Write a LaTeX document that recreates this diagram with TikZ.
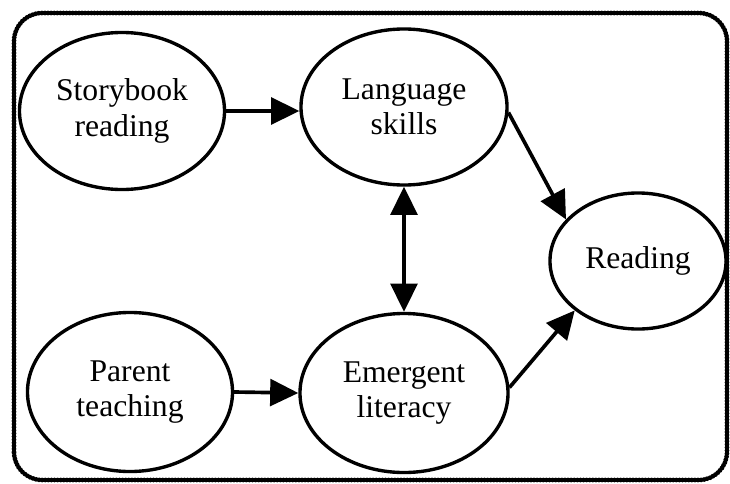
\documentclass[tikz,border=0pt]{standalone}
\usepackage{fontspec}
\setmainfont{Liberation Serif}
\usetikzlibrary{shapes.geometric,arrows.meta}

\begin{document}
\begin{tikzpicture}[x=0.025cm,y=0.025cm]
        \tikzset{concept/.style={draw,ellipse,line width=2.4pt,inner sep=0pt,align=center,
                font=\fontsize{22.5}{25}\selectfont},
            link/.style={draw,line width=2.6pt,-{Triangle[length=20pt,width=19pt]}},
            twolink/.style={link,{Triangle[length=20pt,width=19pt]}-{Triangle[length=20pt,width=19pt]}},
            frame/.style={draw,line width=3.4pt,dash pattern=on 0pt off 2.2pt,line cap=round,
                rounded corners=0.7cm}}
        \useasboundingbox (0,0) rectangle (730,483);
        \draw[frame] (14,3) rectangle (727,470);
        \node[concept,minimum width=5.125cm,minimum height=3.925cm] (story) at (122,372) {Storybook\\reading};
        \node[concept,minimum width=5.15cm,minimum height=3.9cm] (lang) at (404,376) {Language\\skills};
        \node[concept,minimum width=4.4cm,minimum height=3.4cm] (read) at (638,222) {Reading};
        \node[concept,minimum width=5.125cm,minimum height=3.975cm] (parent) at (130,91) {Parent\\teaching};
        \node[concept,minimum width=5.2cm,minimum height=3.975cm] (emerg) at (404,90) {Emergent\\literacy};
        \draw[link] (story.east) -- (lang.west |- story.east);
        \draw[twolink] (lang.south) -- (emerg.north);
        \draw[link] (lang.-3) -- (read.150);
        \draw[link] (parent.east) -- (emerg.west);
        \draw[link] (emerg.3) -- (read.218);
    \end{tikzpicture}
\end{document}
